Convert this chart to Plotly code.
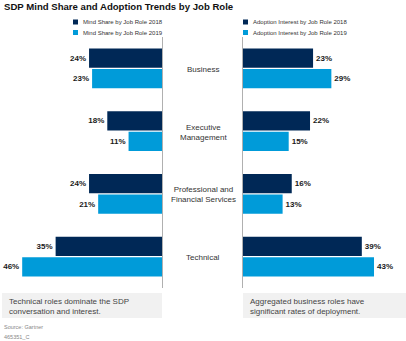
import plotly.graph_objects as go

# ---- data ----
roles = ["Business", "Executive Management", "Professional and Financial Services", "Technical"]
role_labels = ["Business", "Executive<br>Management", "Professional and<br>Financial Services", "Technical"]
mind_2018 = [24, 18, 24, 35]
mind_2019 = [23, 11, 21, 46]
adopt_2018 = [23, 22, 16, 39]
adopt_2019 = [29, 15, 13, 43]

legend_left = ["Mind Share by Job Role 2018", "Mind Share by Job Role 2019"]
legend_right = ["Adoption Interest by Job Role 2018", "Adoption Interest by Job Role 2019"]
title = "SDP Mind Share and Adoption Trends by Job Role"
note_left = "Technical roles dominate the SDP<br>conversation and interest."
note_right = "Aggregated business roles have<br>significant rates of deployment."
source = "Source: Gartner"
doc_id = "465351_C"

# ---- style ----
W, H = 406, 341
DARK = "#002856"
LIGHT = "#009bd9"
FONT = "Liberation Sans, Arial, sans-serif"
AXIS = "#b0b0b0"


def px(x):
    return x / W


def py(y):
    return 1 - y / H


fig = go.Figure()

bar_text = dict(size=8, color="#1a1a1a", family=FONT, weight="bold")

for vals, col, name, xa, ya in [
    (mind_2018, DARK, legend_left[0], "x", "y"),
    (mind_2019, LIGHT, legend_left[1], "x", "y"),
    (adopt_2018, DARK, legend_right[0], "x2", "y2"),
    (adopt_2019, LIGHT, legend_right[1], "x2", "y2"),
]:
    fig.add_trace(go.Bar(
        x=vals, y=roles, orientation="h", name=name,
        marker=dict(color=col, line=dict(width=0)),
        text=[f"{v}%" for v in vals], textposition="outside",
        textfont=bar_text, cliponaxis=False,
        xaxis=xa, yaxis=ya, showlegend=False, hoverinfo="skip",
    ))

ydom = [py(288), py(37)]
common_y = dict(type="category", categoryorder="array", categoryarray=roles,
                autorange="reversed", domain=ydom, showticklabels=False,
                showgrid=False, zeroline=False, showline=True, linecolor=AXIS,
                linewidth=1, ticks="")
fig.update_layout(
    width=W, height=H,
    margin=dict(l=0, r=0, t=0, b=0),
    paper_bgcolor="white", plot_bgcolor="white",
    barmode="group", bargap=0.35, bargroupgap=0.05,
    font=dict(family=FONT, color="#333333"),
    xaxis=dict(domain=[0, px(162)], range=[53.3, 0], visible=False),
    xaxis2=dict(domain=[px(243), 1], range=[0, 53.5], visible=False),
    yaxis=dict(anchor="x", side="right", **common_y),
    yaxis2=dict(anchor="x2", side="left", **common_y),
)

ann = []
# title
ann.append(dict(text=f"<b>{title}</b>", x=px(2), y=py(7), xref="paper", yref="paper",
                xanchor="left", yanchor="middle", showarrow=False,
                font=dict(size=9.6, color="#111111", family=FONT)))
# category labels
for r, lab in zip(roles, role_labels):
    ann.append(dict(text=lab, x=0.5, y=r, xref="paper", yref="y", xanchor="center",
                    yanchor="middle", showarrow=False, yshift=-1,
                    font=dict(size=8, color="#333333", family=FONT)))

shapes = []
# legends
for labels, x0 in [(legend_left, 73), (legend_right, 243)]:
    for i, (lab, col) in enumerate(zip(labels, [DARK, LIGHT])):
        yc = 22 + 10.5 * i
        shapes.append(dict(type="rect", xref="paper", yref="paper",
                           x0=px(x0), x1=px(x0 + 5), y0=py(yc - 2.5), y1=py(yc + 2.5),
                           fillcolor=col, line=dict(width=0)))
        ann.append(dict(text=lab, x=px(x0 + 8), y=py(yc), xref="paper", yref="paper",
                        xanchor="left", yanchor="middle", showarrow=False,
                        font=dict(size=6, color="#333333", family=FONT)))

# note boxes
for note, x0, x1 in [(note_left, 2, 162), (note_right, 243, 406)]:
    shapes.append(dict(type="rect", xref="paper", yref="paper",
                       x0=px(x0), x1=px(x1), y0=py(318), y1=py(293),
                       fillcolor="#f1f1f1", line=dict(width=0), layer="below"))
    ann.append(dict(text=note, x=px(x0 + 5), y=py(306.5), xref="paper", yref="paper",
                    xanchor="left", yanchor="middle", align="left", showarrow=False,
                    font=dict(size=8, color="#444444", family=FONT)))

# source lines
ann.append(dict(text=source, x=px(2), y=py(327), xref="paper", yref="paper",
                xanchor="left", yanchor="middle", showarrow=False,
                font=dict(size=5.5, color="#888888", family=FONT)))
ann.append(dict(text=doc_id, x=px(2), y=py(337), xref="paper", yref="paper",
                xanchor="left", yanchor="middle", showarrow=False,
                font=dict(size=5.5, color="#888888", family=FONT)))

fig.update_layout(annotations=ann, shapes=shapes)
fig.write_html("out.html")
